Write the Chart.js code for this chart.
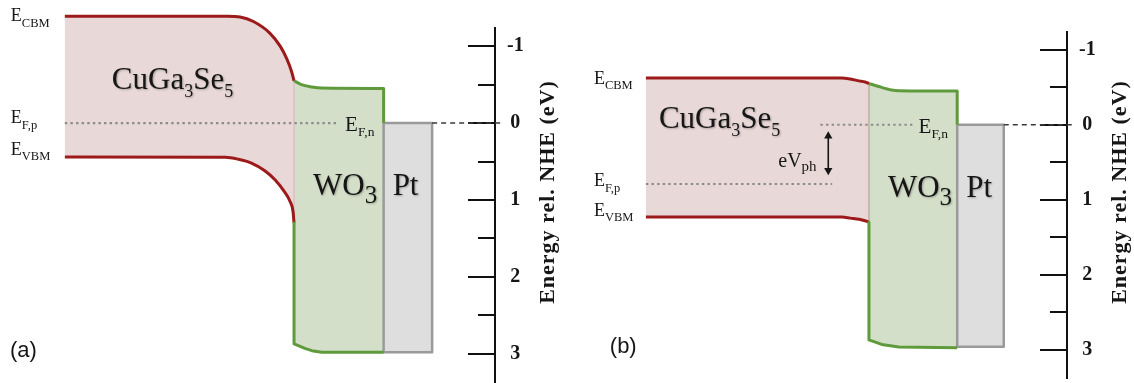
<!DOCTYPE html>
<html>
<head>
<meta charset="utf-8">
<title>CuGa3Se5 / WO3 / Pt band diagram</title>
<script src="https://cdn.jsdelivr.net/npm/chart.js"></script>
<style>
  html, body { margin: 0; padding: 0; background: #fff; overflow: hidden; }
  #wrap { position: relative; width: 1134px; height: 383px; }
  canvas { position: absolute; top: 0; }
  #cA { left: 0; }
  #cB { left: 572px; }
</style>
</head>
<body>
<div id="wrap">
  <canvas id="cA" width="562" height="383"></canvas>
  <canvas id="cB" width="562" height="383"></canvas>
</div>
<script>
// Energies in eV vs NHE (axis drawn downward), positions in depth units (0–100 across a panel).

// energy axis
const energyTicks = [-1, 0, 1, 2, 3];
const energyMinorTicks = [-1, -0.5, 0, 0.5, 1, 1.5, 2, 2.5, 3];
const E_MIN = -1.6, E_MAX = 3.38, AXIS_TOP_E = -1.235;

// ---- (a) in the dark: common Fermi level ----
const posCbmA = [13.1, 45.9, 48.5, 51.2, 54.5, 56.6, 57.9, 58.9, 59.4];
const cbmA    = [-1.39, -1.39, -1.38, -1.32, -1.17, -1.00, -0.84, -0.67, -0.55];
const posVbmA = [13.1, 45.5, 48.1, 50.8, 53.5, 55.6, 57.2, 58.6, 59.2, 59.4];
const vbmA    = [0.44, 0.445, 0.47, 0.52, 0.62, 0.74, 0.87, 1.02, 1.15, 1.30];
const posWo3TopA = [59.4, 60.9, 63.0, 65.0, 77.5];
const wo3TopA    = [-0.55, -0.50, -0.47, -0.455, -0.45];
const posWo3BotA = [59.4, 61.6, 63.0, 65.0, 77.5];
const wo3BotA    = [2.87, 2.93, 2.96, 2.98, 2.98];
const posPtA = [77.5, 87.3];
const ptA    = [0.0, 2.98];
const efA = 0.0;                 // E_F,p = E_F,n
const posEfA = [13.1, 68.5];

// ---- (b) under illumination: split quasi-Fermi levels ----
const posCbmB = [14.1, 54.1, 55.8, 57.6, 58.8, 59.6];
const cbmB    = [-0.625, -0.625, -0.61, -0.585, -0.57, -0.55];
const posVbmB = [14.1, 54.1, 55.8, 57.6, 58.8, 59.6];
const vbmB    = [1.23, 1.23, 1.245, 1.26, 1.28, 1.30];
const posWo3TopB = [59.6, 61.6, 64.2, 65.7, 77.6];
const wo3TopB    = [-0.55, -0.51, -0.465, -0.455, -0.45];
const posWo3BotB = [59.6, 62.2, 65.7, 77.6];
const wo3BotB    = [2.87, 2.93, 2.965, 2.975];
const posPtB = [77.6, 87.1];
const ptB    = [0.0, 2.96];
const efnB = 0.0, posEfnB = [49.7, 68.5];
const efpB = 0.79, posEfpB = [14.1, 52.1];
const posArrowB = 51.3, arrowB = [0.15, 0.61];

const DASH_END = 101.5;

// palette
const PINK = '#e9d8d8', GREEN_FILL = '#d4dfc9', RED = '#9c1a1a', GREEN = '#5f9a3c';
const PT_FILL = '#dedede', PT_EDGE = '#9a9a9a', DOT = '#8c8c8c', DASH = '#3a3a3a', INK = '#161616';
const SERIF = '"Liberation Serif", "Times New Roman", serif';
const SANS = '"Liberation Sans", Arial, sans-serif';

const pts = (xs, ys) => xs.map((x, i) => ({ x, y: ys[i] }));
const rev = a => a.slice().reverse();

function line(data, color, width, extra) {
  return Object.assign({ data, showLine: true, fill: false, clip: false, borderColor: color, borderWidth: width,
    backgroundColor: 'rgba(0,0,0,0)', pointRadius: 0 }, extra || {});
}
function area(data, color, extra) {
  return Object.assign({ data, showLine: true, fill: 'shape', clip: false, backgroundColor: color,
    borderColor: 'rgba(0,0,0,0)', borderWidth: 0, pointRadius: 0 }, extra || {});
}

function buildPanel(p) {
  const cb = pts(p.posCbm, p.cbm), vb = pts(p.posVbm, p.vbm);
  const wt = pts(p.posWo3Top, p.wo3Top), wb = pts(p.posWo3Bot, p.wo3Bot);
  const j = p.posCbm[p.posCbm.length - 1];
  const cbEnd = p.cbm[p.cbm.length - 1], vbEnd = p.vbm[p.vbm.length - 1];
  const wRight = p.posWo3Top[p.posWo3Top.length - 1];
  const [ptL, ptR] = p.posPt, [ptTop, ptBot] = p.pt;
  const mono = { cubicInterpolationMode: 'monotone' };

  // listed bottom layer first
  const layers = [
    area([...cb, ...rev(vb)], PINK, mono),
    area([...wt, ...rev(wb)], GREEN_FILL, mono),
    area([{ x: ptL, y: ptTop }, { x: ptR, y: ptTop }, { x: ptR, y: ptBot }, { x: ptL, y: ptBot }, { x: ptL, y: ptTop }],
      PT_FILL, { borderColor: PT_EDGE, borderWidth: 2.5 }),
    line([{ x: j, y: cbEnd }, { x: j, y: vbEnd }], p.seam, 2),
    ...p.levels.map(l => line([{ x: l.pos[0], y: l.E }, { x: l.pos[1], y: l.E }], DOT, 2.2, { borderDash: [2.4, 3.2] })),
    line([{ x: ptR, y: ptTop }, { x: DASH_END, y: ptTop }], DASH, 1.4, { borderDash: [5, 4] }),
    line(cb, RED, 3, mono),
    line(vb, RED, 3, mono),
    line([...wt, { x: wRight, y: ptTop }], GREEN, 3, mono),
    line([{ x: j, y: vbEnd }, ...wb], GREEN, 3),
  ];
  if (p.arrow) {
    layers.push(line([{ x: p.arrow.pos, y: p.arrow.E[0] }, { x: p.arrow.pos, y: p.arrow.E[1] }], INK, 1.6, {
      pointRadius: 4.8, pointStyle: 'triangle', pointRotation: [0, 180],
      pointBackgroundColor: INK, pointBorderColor: INK, pointBorderWidth: 0 }));
  }
  layers.forEach((d, i) => { d.order = layers.length - i; });
  return layers;
}

// text annotations: anchor [position, energy] plus pixel nudges; parts = [text, size, baseline shift]
const E_LBL = (sub, big) => [['E', big || 18, 0], [sub, big ? 13.5 : 12.5, big ? 5 : 5.5]];
const panelTexts = {
  cA: [
    { at: [posCbmA[0], cbmA[0]], dx: -54, dy: 5, parts: E_LBL('CBM') },
    { at: [posCbmA[0], efA], dx: -54, dy: 0, parts: E_LBL('F,p') },
    { at: [posVbmA[0], vbmA[0]], dx: -54, dy: -2, parts: E_LBL('VBM') },
    { at: [posEfA[1], efA], dx: 6, dy: 8, parts: E_LBL('F,n', 21) },
    { at: [posCbmA[0], cbmA[0]], dx: 47, dy: 73, shadow: true,
      parts: [['CuGa', 31, 0], ['3', 18, 8], ['Se', 31, 0], ['5', 18, 8]] },
    { at: [posWo3TopA[0], efA], dx: 19, dy: 72, shadow: true, parts: [['WO', 31, 0], ['3', 25, 8]] },
    { at: [posPtA[0], efA], dx: 9, dy: 72, shadow: true, parts: [['Pt', 31, 0]] },
    { at: [0, 3], dx: 10, dy: 3, family: SANS, parts: [['(a)', 22, 0]] },
  ],
  cB: [
    { at: [posCbmB[0], cbmB[0]], dx: -52, dy: 6, parts: E_LBL('CBM') },
    { at: [posCbmB[0], efpB], dx: -52, dy: 2, parts: E_LBL('F,p') },
    { at: [posVbmB[0], vbmB[0]], dx: -52, dy: -1, parts: E_LBL('VBM') },
    { at: [posEfnB[1], efnB], dx: 6, dy: 8, parts: E_LBL('F,n', 21) },
    { at: [posArrowB, efnB], dx: -50, dy: 42, parts: [['eV', 20, 0], ['ph', 15, 4]] },
    { at: [posCbmB[0], cbmB[0]], dx: 13, dy: 50, shadow: true,
      parts: [['CuGa', 31, 0], ['3', 18, 8], ['Se', 31, 0], ['5', 18, 8]] },
    { at: [posWo3TopB[0], efnB], dx: 19, dy: 72, shadow: true, parts: [['WO', 31, 0], ['3', 25, 8]] },
    { at: [posPtB[0], efnB], dx: 9, dy: 72, shadow: true, parts: [['Pt', 31, 0]] },
    { at: [0, 3], dx: 33, dy: 3, family: SANS, parts: [['(b)', 22, 0]] },
  ],
};

const bandText = {
  id: 'bandText',
  afterDraw(chart) {
    const { ctx, scales: { x, y } } = chart;
    ctx.save();
    ctx.textAlign = 'left';
    ctx.textBaseline = 'alphabetic';
    ctx.fillStyle = INK;
    for (const it of panelTexts[chart.canvas.id] || []) {
      let cx = x.getPixelForValue(it.at[0]) + it.dx;
      const by = y.getPixelForValue(it.at[1]) + it.dy;
      if (it.shadow) {
        ctx.shadowColor = 'rgba(0,0,0,0.28)'; ctx.shadowBlur = 2; ctx.shadowOffsetX = 1; ctx.shadowOffsetY = 1;
      } else {
        ctx.shadowColor = 'rgba(0,0,0,0)'; ctx.shadowBlur = 0; ctx.shadowOffsetX = 0; ctx.shadowOffsetY = 0;
      }
      for (const [t, size, lift] of it.parts) {
        ctx.font = `${size}px ${it.family || SERIF}`;
        ctx.fillText(t, cx, by + lift);
        cx += ctx.measureText(t).width;
      }
    }
    ctx.restore();

    // energy axis title, reading bottom to top
    const s = chart.scales.y;
    ctx.save();
    ctx.translate(s.left + 53, 192);
    ctx.rotate(-Math.PI / 2);
    ctx.font = `bold 22px ${SERIF}`;
    if ('letterSpacing' in ctx) ctx.letterSpacing = '1px';
    ctx.textAlign = 'center';
    ctx.textBaseline = 'middle';
    ctx.fillStyle = INK;
    ctx.fillText('Energy rel. NHE (eV)', 0, 0);
    ctx.restore();
  }
};

// the energy axis line starts a little below the top of the plot
const axisTop = {
  id: 'axisTop',
  afterLayout(chart) {
    const s = chart.scales.y;
    s.top = s.getPixelForValue(AXIS_TOP_E);
  }
};

function tickAxis(values, length) {
  return {
    type: 'linear', axis: 'y', position: { x: 100 }, reverse: true, min: E_MIN, max: E_MAX,
    afterBuildTicks(s) { s.ticks = values.map(v => ({ value: v })); },
    afterFit(s) { s.paddingTop = 0; s.paddingBottom = 0; },
    grid: { drawOnChartArea: false, drawTicks: true, tickLength: length, color: '#111', lineWidth: 2 },
    border: { display: false },
    ticks: { display: false },
  };
}

function makeChart(id, datasets) {
  return new Chart(document.getElementById(id), {
    type: 'scatter',
    data: { datasets },
    options: {
      responsive: false, animation: false, devicePixelRatio: 1, events: [],
      layout: { padding: 0 },
      plugins: { legend: { display: false }, tooltip: { enabled: false } },
      elements: { point: { radius: 0 }, line: { borderJoinStyle: 'round' } },
      scales: {
        x: { type: 'linear', min: 0, max: 100, display: false },
        y: {
          type: 'linear', position: 'right', reverse: true, min: E_MIN, max: E_MAX,
          afterBuildTicks(s) { s.ticks = energyTicks.map(v => ({ value: v })); },
          afterFit(s) { s.width = 67; s.paddingTop = 0; s.paddingBottom = 0; },
          grid: { display: false, drawTicks: false, drawOnChartArea: false },
          border: { display: true, color: '#111', width: 2 },
          ticks: { padding: 12, crossAlign: 'center', color: INK,
                   font: { family: SERIF, size: 20, weight: 'bold' } },
        },
        yMajor: tickAxis(energyTicks, 27),
        yMinor: tickAxis(energyMinorTicks, 17),
      },
    },
    plugins: [axisTop, bandText],
  });
}

makeChart('cA', buildPanel({
  posCbm: posCbmA, cbm: cbmA, posVbm: posVbmA, vbm: vbmA,
  posWo3Top: posWo3TopA, wo3Top: wo3TopA, posWo3Bot: posWo3BotA, wo3Bot: wo3BotA,
  posPt: posPtA, pt: ptA, seam: '#dcc6c6',
  levels: [{ pos: posEfA, E: efA }],
}));

makeChart('cB', buildPanel({
  posCbm: posCbmB, cbm: cbmB, posVbm: posVbmB, vbm: vbmB,
  posWo3Top: posWo3TopB, wo3Top: wo3TopB, posWo3Bot: posWo3BotB, wo3Bot: wo3BotB,
  posPt: posPtB, pt: ptB, seam: '#c9b9a8',
  levels: [{ pos: posEfnB, E: efnB }, { pos: posEfpB, E: efpB }],
  arrow: { pos: posArrowB, E: arrowB },
}));
</script>
</body>
</html>
